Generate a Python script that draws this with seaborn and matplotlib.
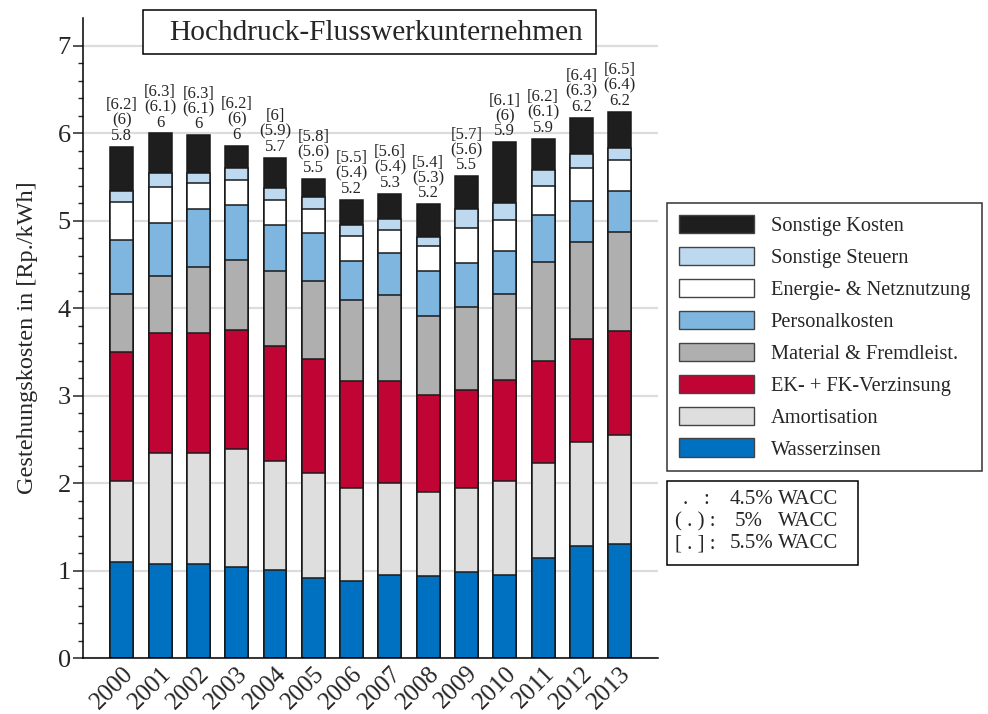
import numpy as np
import pandas as pd
import matplotlib
matplotlib.use("Agg")
import matplotlib.pyplot as plt
import matplotlib.patches as mpatches
from matplotlib.ticker import FixedLocator
import seaborn as sns

# Cost components per year, in Rp./kWh (stacked bottom to top)
years = ["2000", "2001", "2002", "2003", "2004", "2005", "2006",
         "2007", "2008", "2009", "2010", "2011", "2012", "2013"]
wasserzinsen = [1.10, 1.08, 1.08, 1.04, 1.01, 0.91, 0.88, 0.95, 0.94, 0.98, 0.95, 1.14, 1.28, 1.30]
amortisation = [0.93, 1.26, 1.27, 1.35, 1.24, 1.21, 1.06, 1.05, 0.96, 0.97, 1.08, 1.09, 1.19, 1.25]
verzinsung = [1.47, 1.38, 1.37, 1.36, 1.32, 1.30, 1.23, 1.17, 1.11, 1.12, 1.15, 1.17, 1.18, 1.19]
material = [0.66, 0.65, 0.75, 0.80, 0.86, 0.89, 0.93, 0.98, 0.90, 0.95, 0.98, 1.13, 1.11, 1.13]
personal = [0.62, 0.61, 0.66, 0.63, 0.52, 0.55, 0.44, 0.48, 0.52, 0.50, 0.49, 0.54, 0.47, 0.47]
energie = [0.43, 0.41, 0.30, 0.29, 0.29, 0.28, 0.29, 0.27, 0.28, 0.40, 0.36, 0.33, 0.38, 0.36]
steuern = [0.13, 0.16, 0.12, 0.14, 0.14, 0.13, 0.12, 0.12, 0.11, 0.21, 0.19, 0.18, 0.15, 0.13]
sonstige = [0.51, 0.45, 0.43, 0.25, 0.34, 0.21, 0.29, 0.29, 0.37, 0.38, 0.70, 0.36, 0.42, 0.42]

# Total cost labels for three WACC assumptions
label_wacc45 = ["5.8", "6", "6", "6", "5.7", "5.5", "5.2", "5.3", "5.2", "5.5", "5.9", "5.9", "6.2", "6.2"]
label_wacc50 = ["6", "6.1", "6.1", "6", "5.9", "5.6", "5.4", "5.4", "5.3", "5.6", "6", "6.1", "6.3", "6.4"]
label_wacc55 = ["6.2", "6.3", "6.3", "6.2", "6", "5.8", "5.5", "5.6", "5.4", "5.7", "6.1", "6.2", "6.4", "6.5"]

components = ["Wasserzinsen", "Amortisation", "EK- + FK-Verzinsung",
              "Material & Fremdleist.", "Personalkosten", "Energie- & Netznutzung",
              "Sonstige Steuern", "Sonstige Kosten"]
series = [wasserzinsen, amortisation, verzinsung, material, personal, energie, steuern, sonstige]
colors = ["#0070c0", "#dedede", "#c00535", "#afafaf", "#7fb6df", "#ffffff", "#bdd9ef", "#1e1e1e"]

sns.set_style("ticks")
plt.rcParams["font.family"] = ["Liberation Serif", "DejaVu Serif"]

df = pd.DataFrame({
    "year": np.tile(years, len(components)),
    "component": np.repeat(components, len(years)),
    "value": np.concatenate(series),
})
df["component"] = pd.Categorical(df["component"], categories=components, ordered=True)
df = df.sort_values(["year", "component"])
df["top"] = df.groupby("year")["value"].cumsum()

fig = plt.figure(figsize=(9.88, 7.14), dpi=100)
ax = fig.add_axes([0.0845, 0.0784, 0.5815, 0.8964])
ax.set_axisbelow(True)
ax.yaxis.grid(True, color="#dcdcdc", linewidth=1.6)
ax.xaxis.grid(False)

# Draw cumulative heights from the top layer downward so each layer overlays the next
edge = "#1a1a1a"
for comp, col in reversed(list(zip(components, colors))):
    sub = df[df["component"] == comp]
    sns.barplot(data=sub, x="year", y="top", order=years, color=col,
                saturation=1, width=0.6, edgecolor=edge, linewidth=1.1,
                errorbar=None, ax=ax)

totals = df.groupby("year")["top"].max().reindex(years).to_numpy()
for i, top in enumerate(totals):
    ax.annotate(f"[{label_wacc55[i]}]\n({label_wacc50[i]})\n{label_wacc45[i]}",
                xy=(i, top), xytext=(0, 2), textcoords="offset points",
                ha="center", va="bottom", ma="center", fontsize=12,
                linespacing=0.95)

ax.set_xlim(-1, 14)
ax.set_ylim(0, 7.32)
ax.set_yticks(range(0, 8))
ax.yaxis.set_minor_locator(FixedLocator([v / 5 for v in range(0, 36) if v % 5]))
ax.tick_params(axis="y", which="major", length=7.5, width=1.1, labelsize=19, pad=1.5, direction="out")
ax.tick_params(axis="y", which="minor", length=3.8, width=1.0, direction="out")
ax.tick_params(axis="x", length=0, labelsize=18, pad=3)
for lbl in ax.get_xticklabels():
    lbl.set_rotation(45)
    lbl.set_ha("right")
    lbl.set_va("top")
    lbl.set_rotation_mode("anchor")
ax.set_xlabel("")
ax.set_ylabel("Gestehungskosten in [Rp./kWh]", fontsize=17.5, labelpad=14)
sns.despine(ax=ax)
for s in ("left", "bottom"):
    ax.spines[s].set_linewidth(1.1)
    ax.spines[s].set_color("black")

# Title in a framed box
fig.patches.append(mpatches.Rectangle((143 / 988, 1 - 54 / 714), 453 / 988, 44 / 714,
                                      transform=fig.transFigure, facecolor="white",
                                      edgecolor="black", linewidth=1.1, zorder=5))
fig.text(376 / 988, 1 - 33 / 714, "Hochdruck-Flusswerkunternehmen", fontsize=21.2,
         ha="center", va="center", zorder=6)

# Component legend, top layer first
handles = [mpatches.Patch(facecolor=c, edgecolor="#444444", linewidth=1.0, label=n)
           for n, c in zip(components[::-1], colors[::-1])]
leg = fig.legend(handles=handles, loc="upper left",
                 bbox_to_anchor=(667 / 988, 1 - 203 / 714), fontsize=14.7,
                 frameon=True, fancybox=False, handlelength=3.7, handleheight=1.0,
                 labelspacing=0.53, handletextpad=0.8, borderpad=0.58, borderaxespad=0)
leg.get_frame().set_edgecolor("black")
leg.get_frame().set_linewidth(1.1)

# WACC key box
fig.patches.append(mpatches.Rectangle((667 / 988, 1 - 565 / 714), 191 / 988, 84 / 714,
                                      transform=fig.transFigure, facecolor="white",
                                      edgecolor="black", linewidth=1.1))
key_rows = [(".   :", 683, "4.5%", 730, 499),
            ("( . ) :", 675, "5%", 735, 522),
            ("[ . ] :", 675, "5.5%", 730, 544)]
for sym, sx, pct, px, py in key_rows:
    fig.text(sx / 988, 1 - py / 714, sym, fontsize=15, ha="left", va="center")
    fig.text(px / 988, 1 - py / 714, pct, fontsize=15, ha="left", va="center")
    fig.text(778 / 988, 1 - py / 714, "WACC", fontsize=15, ha="left", va="center")

fig.savefig("out.png", dpi=100)
